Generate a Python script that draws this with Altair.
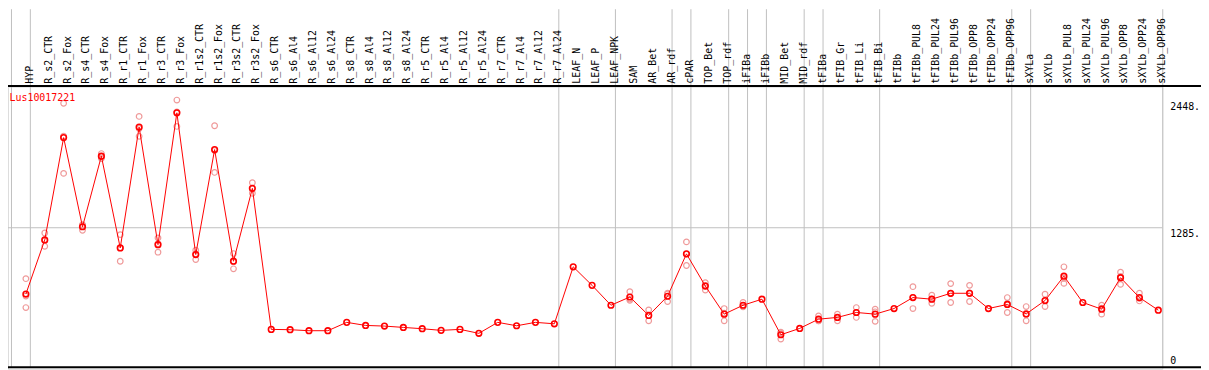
import altair as alt
import pandas as pd

# ---------------- data ----------------
gene = "Lus10017221"

names = ["HYP", "R_s2_CTR", "R_s2_Fox", "R_s4_CTR", "R_s4_Fox", "R_r1_CTR", "R_r1_Fox",
         "R_r3_CTR", "R_r3_Fox", "R_r1s2_CTR", "R_r1s2_Fox", "R_r3s2_CTR", "R_r3s2_Fox",
         "R_s6_CTR", "R_s6_Al4", "R_s6_Al12", "R_s6_Al24", "R_s8_CTR", "R_s8_Al4", "R_s8_Al12",
         "R_s8_Al24", "R_r5_CTR", "R_r5_Al4", "R_r5_Al12", "R_r5_Al24", "R_r7_CTR", "R_r7_Al4",
         "R_r7_Al12", "R_r7_Al24", "LEAF_N", "LEAF_P", "LEAF_NPK", "SAM", "AR_Bet", "AR_rdf",
         "cPAR", "TOP_Bet", "TOP_rdf", "iFIBa", "iFIBb", "MID_Bet", "MID_rdf", "tFIBa",
         "tFIB_Gr", "tFIB_Li", "tFIB_Bi", "tFIBb", "tFIBb_PUL8", "tFIBb_PUL24", "tFIBb_PUL96",
         "tFIBb_OPP8", "tFIBb_OPP24", "tFIBb_OPP96", "sXYLa", "sXYLb", "sXYLb_PUL8",
         "sXYLb_PUL24", "sXYLb_PUL96", "sXYLb_OPP8", "sXYLb_OPP24", "sXYLb_OPP96"]

means = [681, 1174, 2106, 1294, 1937, 1101, 2202, 1131, 2332, 1041, 1997, 980, 1644,
         359, 356, 347, 347, 423, 395, 389, 377, 365, 350, 359, 323, 423, 392, 423, 410,
         929, 760, 579, 654, 486, 661, 1047, 754, 498, 579, 634, 310, 368, 452,
         468, 513, 498, 549, 649, 634, 688, 688, 549, 586, 500, 622, 844,
         604, 543, 830, 649, 534]

reps = [[821, 663, 558], [1237, 1169, 1116], [2419, 2119, 1780], [1312, 1309, 1261],
        [1961, 1934, 1916], [1222, 1101, 980], [2299, 2189, 2118], [1192, 1139, 1062],
        [2448, 2340, 2208], [1080, 1048, 995], [2214, 1988, 1789], [1050, 979, 911],
        [1695, 1638, 1599],
        [], [], [], [], [], [], [], [], [], [], [], [], [], [], [], [],
        [], [], [],
        [703, 635, 624], [537, 484, 437], [688, 682, 613], [1156, 1044, 941],
        [785, 759, 718], [549, 508, 437], [604, 569, 564], [],
        [333, 326, 271], [], [482, 437, 437], [498, 469, 437], [558, 513, 468],
        [543, 519, 432], [], [748, 650, 549], [670, 635, 597], [776, 684, 604],
        [760, 691, 613], [], [649, 596, 513], [567, 496, 437], [679, 620, 567],
        [929, 825, 778], [], [579, 552, 498], [880, 841, 769], [688, 641, 618], []]

# group separators: a grey line after these sample indices (-1 = left edge)
sep_after = [-1, 0, 28, 31, 34, 35, 37, 38, 39, 41, 42, 45, 52, 53, 60]

grid_values = [1285]
tick_values = [2448, 1285]
tick_labels = ["2448.", "1285."]
zero_values = [0]
zero_labels = ["0"]

# ---------------- tables ----------------
df = pd.DataFrame({"idx": list(range(len(names))), "name": names, "mean": means})
rdf = pd.DataFrame([{"idx": i, "value": v} for i, rs in enumerate(reps) for v in rs])
sdf = pd.DataFrame({"pos": [a + 4.5 / 19 for a in sep_after]})
gdf = pd.DataFrame({"v": grid_values})
tdf = pd.DataFrame({"v": tick_values, "t": tick_labels})
zdf = pd.DataFrame({"v": zero_values, "t": zero_labels})
one = pd.DataFrame({"k": [0]})

W, H = 1162, 284
FONT = "DejaVu Sans Mono"
RED = "#ff0000"
PINK = "#ef9a9a"
GREY = "#c0c0c0"

xs = alt.Scale(domain=[0, 60], range=[18, 1158])
ys = alt.Scale(domain=[0, 2570], range=[H, 0], nice=False, zero=False)

seps = alt.Chart(sdf).mark_rule(color=GREY, strokeWidth=1).encode(
    x=alt.X("pos:Q", scale=xs, axis=None), y=alt.value(-78), y2=alt.value(283))

grid = alt.Chart(gdf).mark_rule(color=GREY, strokeWidth=1).encode(
    y=alt.Y("v:Q", scale=ys, axis=None), x=alt.value(0), x2=alt.value(W))

head_line = alt.Chart(one).mark_rule(color="black", strokeWidth=2).encode(
    y=alt.value(-0.8), x=alt.value(0), x2=alt.value(1201))
bottom_line = alt.Chart(one).mark_rule(color="black", strokeWidth=2).encode(
    y=alt.value(282.5), x=alt.value(0), x2=alt.value(1201))

labels = alt.Chart(df).mark_text(
    angle=270, align="left", baseline="middle", font=FONT, fontSize=10, color="black", dy=4
).encode(x=alt.X("idx:Q", scale=xs, axis=None), y=alt.value(-3), text="name:N")

rep_pts = alt.Chart(rdf).mark_point(
    shape="circle", filled=False, color=PINK, size=32, strokeWidth=1.2, opacity=1
).encode(x=alt.X("idx:Q", scale=xs, axis=None), y=alt.Y("value:Q", scale=ys, axis=None))

line = alt.Chart(df).mark_line(color=RED, strokeWidth=1).encode(
    x=alt.X("idx:Q", scale=xs, axis=None), y=alt.Y("mean:Q", scale=ys, axis=None))

mean_pts = alt.Chart(df).mark_point(
    shape="circle", filled=False, color=RED, size=32, strokeWidth=1.6, opacity=1
).encode(x=alt.X("idx:Q", scale=xs, axis=None), y=alt.Y("mean:Q", scale=ys, axis=None))

gene_txt = alt.Chart(pd.DataFrame({"g": [gene]})).mark_text(
    align="left", baseline="alphabetic", font=FONT, fontSize=10, color=RED
).encode(x=alt.value(1.5), y=alt.value(14), text="g:N")

ticks = alt.Chart(tdf).mark_text(
    align="left", baseline="top", font=FONT, fontSize=10, color="black", dy=1.5
).encode(x=alt.value(1170), y=alt.Y("v:Q", scale=ys, axis=None), text="t:N")

zero = alt.Chart(zdf).mark_text(
    align="left", baseline="bottom", font=FONT, fontSize=10, color="black", dy=-3
).encode(x=alt.value(1170), y=alt.Y("v:Q", scale=ys, axis=None), text="t:N")

chart = alt.layer(
    seps, grid, head_line, bottom_line, labels, rep_pts, line, mean_pts, gene_txt, ticks, zero
).properties(
    width=W, height=H,
    padding={"top": 78, "left": 0, "right": 39, "bottom": 0},
    autosize="none",
).configure_view(stroke=None).configure(background="white")

chart.save("out.html", embed_options={"renderer": "svg", "actions": False})
